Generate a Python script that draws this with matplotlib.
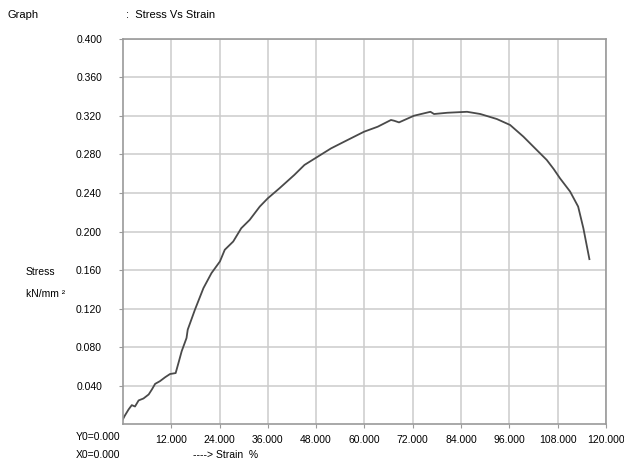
import matplotlib.pyplot as plt
import numpy as np

plt.rcParams['font.family'] = ['Liberation Sans', 'DejaVu Sans']

# Curva tensão-deformação
strain = [0.0, 0.4, 1.4, 2.2, 3.0, 3.9, 5.1, 6.4, 7.2, 8.0, 9.2, 10.5, 11.7, 13.1,
          13.9, 14.6, 15.8, 16.1, 17.9, 20.0, 22.0, 24.1, 25.3, 27.4, 29.4, 31.5,
          34.0, 36.0, 38.9, 42.6, 45.1, 48.4, 51.7, 55.0, 59.9, 63.3, 64.1, 66.6,
          67.4, 68.6, 72.3, 76.4, 77.3, 80.6, 85.5, 88.8, 92.9, 96.2, 99.5, 102.8,
          105.3, 107.0, 108.6, 111.1, 113.1, 114.4, 115.9]
stress = [0.005, 0.0083, 0.0152, 0.0197, 0.0183, 0.0246, 0.0266, 0.0308, 0.036,
          0.0418, 0.0446, 0.0487, 0.052, 0.053, 0.065, 0.0757, 0.0894, 0.0981,
          0.1189, 0.1412, 0.1568, 0.1689, 0.181, 0.1896, 0.2034, 0.2121, 0.2259,
          0.2345, 0.2449, 0.2588, 0.2691, 0.2777, 0.2863, 0.2933, 0.3036, 0.3088,
          0.3105, 0.3158, 0.315, 0.3133, 0.3202, 0.3243, 0.322, 0.3233, 0.3243,
          0.322, 0.3168, 0.3106, 0.2985, 0.2847, 0.2743, 0.265, 0.2552, 0.2415,
          0.2259, 0.2034, 0.1713]

x_ticks = np.arange(12, 121, 12)
y_ticks = np.arange(0.04, 0.401, 0.04)

fig = plt.figure(figsize=(6.24, 4.63), dpi=100)
ax = fig.add_axes([0.197, 0.084, 0.774, 0.832])

ax.plot(strain, stress, color='#4a4a4a', linewidth=1.3)

ax.set_xlim(0, 120)
ax.set_ylim(0, 0.4)
ax.set_xticks(x_ticks)
ax.set_yticks(y_ticks)
ax.set_xticklabels([f'{v:.3f}' for v in x_ticks])
ax.set_yticklabels([f'{v:.3f}' for v in y_ticks])
ax.grid(True, color='#cccccc', linewidth=1.1)
ax.set_axisbelow(True)
for s in ax.spines.values():
    s.set_color('#9a9a9a')
    s.set_linewidth(1.2)
ax.tick_params(axis='both', colors='#9a9a9a', labelcolor='black', labelsize=7.5, length=3)
ax.tick_params(axis='y', pad=12)
ax.tick_params(axis='x', pad=5)

# Textos do cabeçalho e rótulos
fig.text(8 / 624, 1 - 15 / 463, 'Graph', fontsize=8, va='center')
fig.text(126 / 624, 1 - 15 / 463, ':  Stress Vs Strain', fontsize=8, va='center')
fig.text(26 / 624, 1 - 272 / 463, 'Stress', fontsize=7.5, va='center')
fig.text(26 / 624, 1 - 294 / 463, 'kN/mm ²', fontsize=7.5, va='center')
fig.text(120 / 624, 1 - 437 / 463, 'Y0=0.000', fontsize=7.5, va='center', ha='right')
fig.text(120 / 624, 1 - 455 / 463, 'X0=0.000', fontsize=7.5, va='center', ha='right')
fig.text(193 / 624, 1 - 455 / 463, '----> Strain  %', fontsize=7.5, va='center')

plt.savefig('out.png', dpi=100)
